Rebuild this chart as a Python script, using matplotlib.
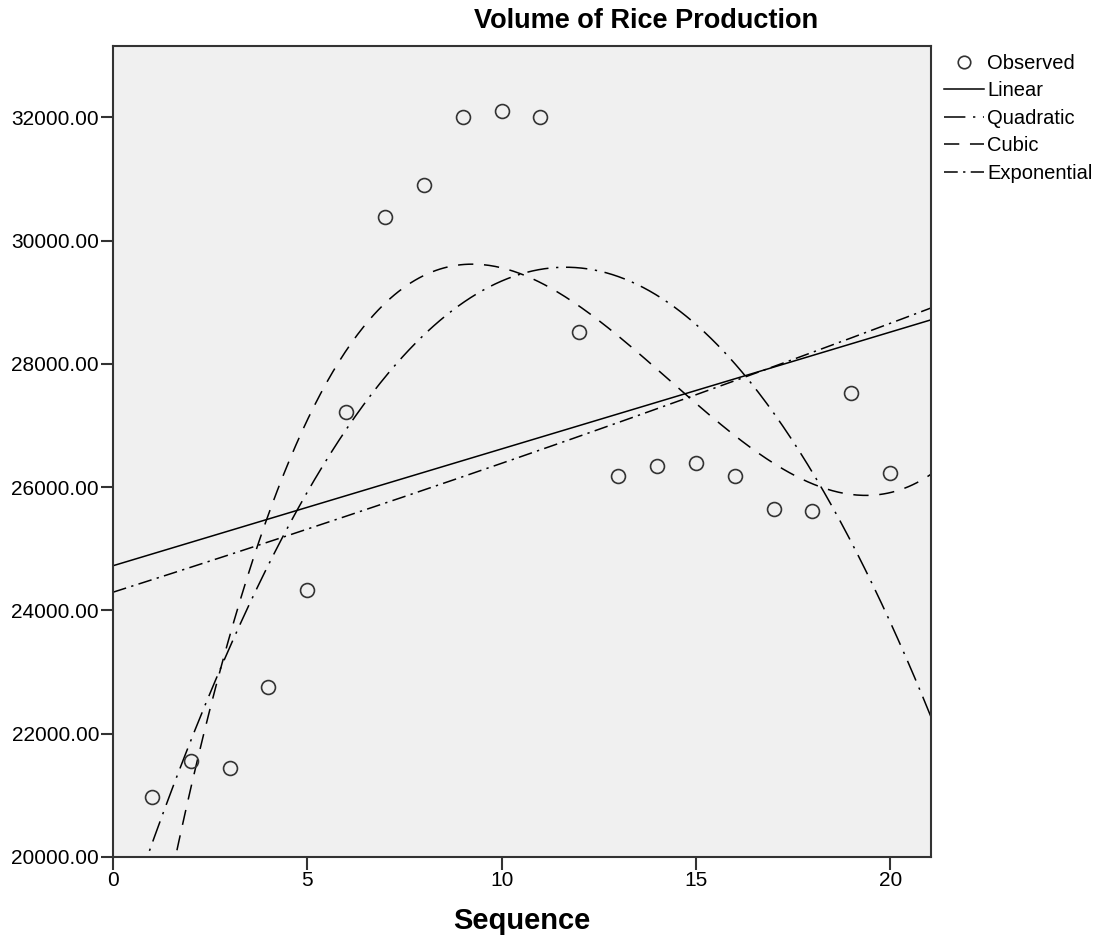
import numpy as np
import matplotlib
matplotlib.use("Agg")
import matplotlib.pyplot as plt
from matplotlib.lines import Line2D
from matplotlib.ticker import FormatStrFormatter

plt.rcParams['font.family'] = ['Liberation Sans', 'DejaVu Sans']

sequence = np.arange(1, 21)
production = [20970, 21563, 21439, 22761, 24340, 27222, 30383, 30897, 32003, 32100,
              32003, 28515, 26188, 26344, 26386, 26188, 25650, 25610, 27534, 26236]
x_ticks = [0, 5, 10, 15, 20]
y_ticks = [20000, 22000, 24000, 26000, 28000, 30000, 32000]

y = np.array(production, dtype=float)
xs = np.linspace(0, 21.1, 400)

# curve estimation models fitted to the observed series
lin = np.polyval(np.polyfit(sequence, y, 1), xs)
quad = np.polyval(np.polyfit(sequence, y, 2), xs)
cub = np.polyval(np.polyfit(sequence, y, 3), xs)
b1, b0 = np.polyfit(sequence, np.log(y), 1)
expo = np.exp(b0 + b1 * xs)

fig = plt.figure(figsize=(11.05, 9.51), dpi=100)
ax = fig.add_axes([113 / 1105, 1 - 857 / 951, 818 / 1105, 811 / 951])
ax.set_facecolor('#f0f0f0')

lw = 1.1
quad_dash = (14, 5, 1.5, 5)
cub_dash = (10, 7)
exp_dash = (9, 3.5, 1.5, 3.5)
ax.plot(sequence, y, 'o', ms=10, mfc='none', mec='#333333', mew=1.2, zorder=5)
ax.plot(xs, lin, color='black', lw=lw)
ax.plot(xs, quad, color='black', lw=lw, dashes=quad_dash)
ax.plot(xs, cub, color='black', lw=lw, dashes=cub_dash)
ax.plot(xs, expo, color='black', lw=lw, dashes=exp_dash)

ax.set_xlim(0, 21.05)
ax.set_ylim(20000, 33160)
ax.set_xticks(x_ticks)
ax.set_yticks(y_ticks)
ax.yaxis.set_major_formatter(FormatStrFormatter('%.2f'))
ax.tick_params(length=9, width=1.5, color='#333333', labelsize=15, pad=1)
for s in ax.spines.values():
    s.set_linewidth(1.5)
    s.set_color('#333333')

ax.set_xlabel('Sequence', fontsize=21, fontweight='bold', labelpad=12)
fig.text(646 / 1105, 1 - 21 / 951, 'Volume of Rice Production', fontsize=19.5,
         fontweight='bold', ha='center', va='center')

handles = [
    Line2D([], [], ls='none', marker='o', ms=9, mfc='none', mec='#333333', mew=1.2),
    Line2D([], [], color='black', lw=lw),
    Line2D([], [], color='black', lw=lw, dashes=quad_dash),
    Line2D([], [], color='black', lw=lw, dashes=cub_dash),
    Line2D([], [], color='black', lw=lw, dashes=exp_dash),
]
labels = ['Observed', 'Linear', 'Quadratic', 'Cubic', 'Exponential']
fig.legend(handles, labels, loc='upper left', bbox_to_anchor=(944 / 1105, 1 - 54 / 951),
           frameon=False, fontsize=14.5, handlelength=2.0, handletextpad=0.15,
           labelspacing=0.42, borderpad=0, borderaxespad=0)

fig.savefig('out.png', dpi=100)
